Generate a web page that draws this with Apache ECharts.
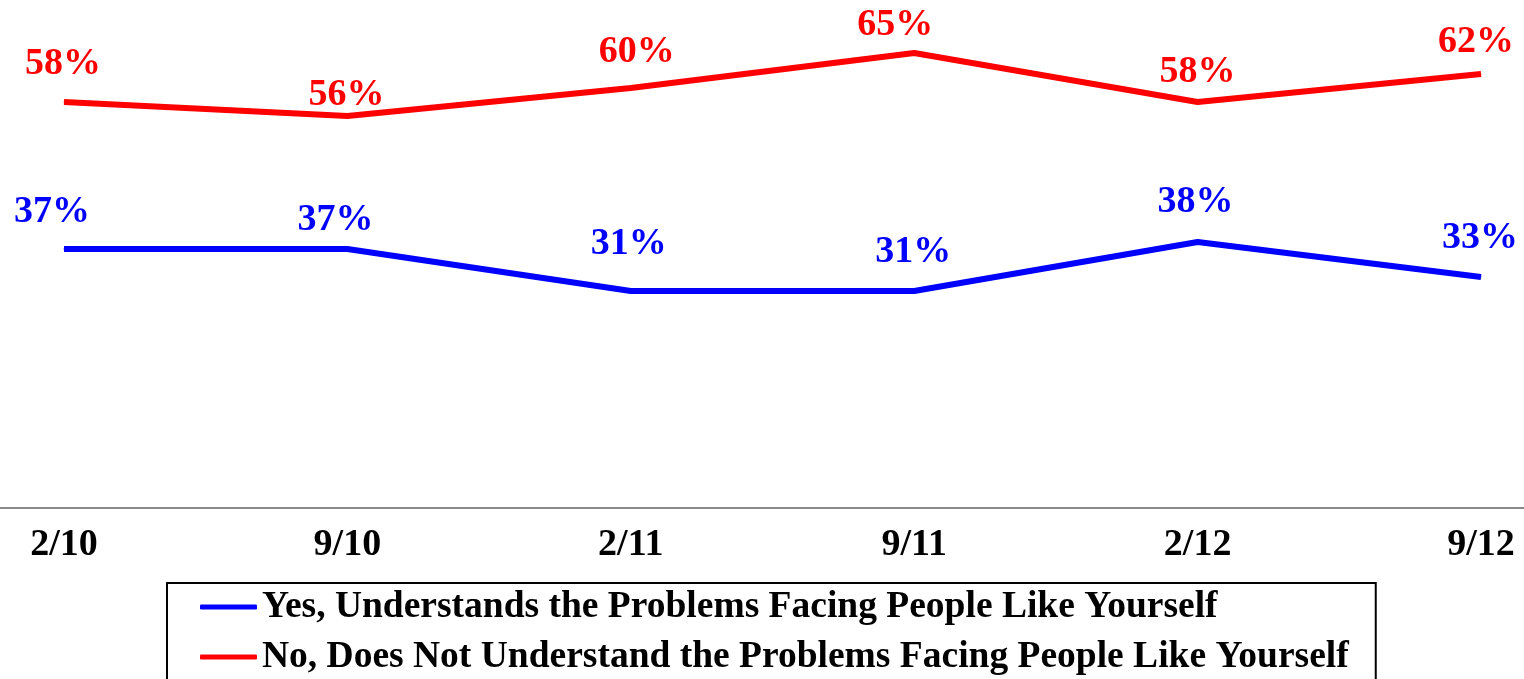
<!DOCTYPE html>
<html>
<head>
<meta charset="utf-8">
<script src="https://cdn.jsdelivr.net/npm/echarts@6/dist/echarts.min.js"></script>
<style>
html,body{margin:0;padding:0;background:#fff;}
#chart{width:1524px;height:679px;}
</style>
</head>
<body>
<div id="chart"></div>
<script>
var categories = ['2/10', '9/10', '2/11', '9/11', '2/12', '9/12'];
var yesValues = [37, 37, 31, 31, 38, 33];
var noValues = [58, 56, 60, 65, 58, 62];
var seriesNames = [
  'Yes, Understands the Problems Facing People Like Yourself',
  'No, Does Not Understand the Problems Facing People Like Yourself'
];

// label placement (style only): [dx, gap above point to text baseline]
var yesLabelPos = [[-12, 24], [-12, 16], [-2, 34], [-1, 26], [-2, 27], [-1, 26]];
var noLabelPos = [[-1, 25], [-1, 8], [6, 23], [-19, 15], [0, 17], [-5, 19]];

var FONT = 'Liberation Serif, Times New Roman, serif';
var FS = 38;

function buildData(values, pos) {
  return values.map(function (v, i) {
    return {
      value: [i, v],
      label: { offset: [pos[i][0], 7 - pos[i][1]] }
    };
  });
}

var chart = echarts.init(document.getElementById('chart'), null, { renderer: 'canvas' });
// category index positions: first at x=64, last at x=1481 of a 1524px wide grid
var step = (1481 - 64) / (categories.length - 1);
var xMin = -64 / step;
var xMax = (categories.length - 1) + (1524 - 1481) / step;
var idx = categories.map(function (c, i) { return i; });

chart.setOption({
  backgroundColor: '#ffffff',
  animation: false,
  grid: { left: 0, right: 0, top: 18, bottom: 171, containLabel: false },
  xAxis: {
    type: 'value',
    min: xMin,
    max: xMax,
    axisLine: { show: true, onZero: false, lineStyle: { color: '#898989', width: 2 } },
    axisTick: { show: false },
    axisLabel: {
      customValues: idx,
      formatter: function (v) { return categories[Math.round(v)]; },
      margin: 18,
      color: '#000',
      fontFamily: FONT,
      fontWeight: 'bold',
      fontSize: FS
    },
    splitLine: { show: false }
  },
  yAxis: {
    type: 'value',
    min: 0,
    max: 70,
    show: false,
    splitLine: { show: false }
  },
  legend: {
    orient: 'vertical',
    left: 167,
    top: 583,
    height: 160,
    padding: [5, 27, 20, 33],
    borderColor: '#000',
    borderWidth: 2,
    itemGap: 12,
    itemWidth: 57,
    itemHeight: 5,
    icon: 'roundRect',
    textStyle: {
      color: '#000',
      fontFamily: FONT,
      fontWeight: 'bold',
      fontSize: 37.5
    },
    data: seriesNames
  },
  series: [
    {
      name: seriesNames[0],
      type: 'line',
      data: buildData(yesValues, yesLabelPos),
      symbol: 'circle',
      symbolSize: 1,
      itemStyle: { color: '#0000FF' },
      lineStyle: { color: '#0000FF', width: 6 },
      label: {
        show: true,
        position: 'top',
        distance: 0,
        formatter: function (p) { return p.value[1] + '%'; },
        color: '#0000FF',
        fontFamily: FONT,
        fontWeight: 'bold',
        fontSize: FS
      }
    },
    {
      name: seriesNames[1],
      type: 'line',
      data: buildData(noValues, noLabelPos),
      symbol: 'circle',
      symbolSize: 1,
      itemStyle: { color: '#FF0000' },
      lineStyle: { color: '#FF0000', width: 6 },
      label: {
        show: true,
        position: 'top',
        distance: 0,
        formatter: function (p) { return p.value[1] + '%'; },
        color: '#FF0000',
        fontFamily: FONT,
        fontWeight: 'bold',
        fontSize: FS
      }
    }
  ]
});
</script>
</body>
</html>
